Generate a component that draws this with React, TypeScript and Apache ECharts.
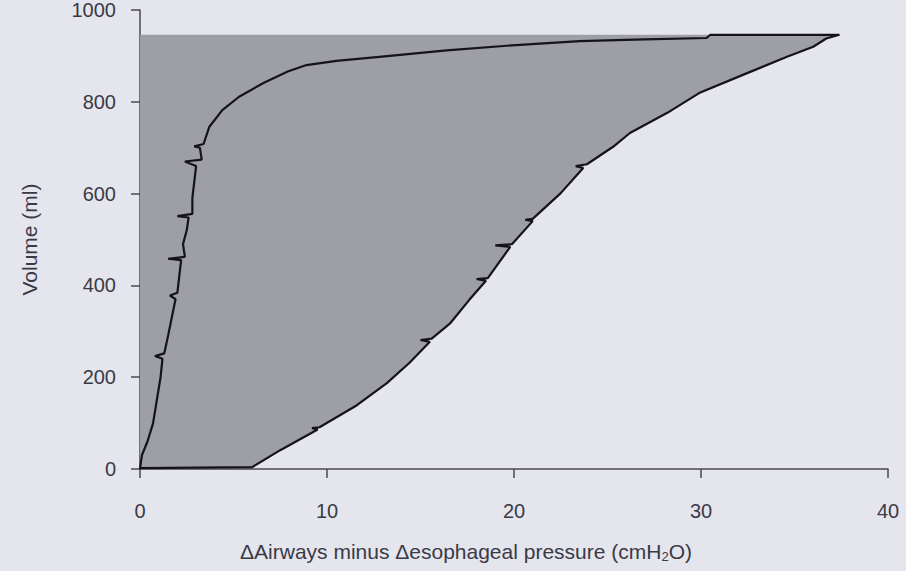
import React, { useEffect, useRef } from "react";
import * as echarts from "echarts";

// Pressure–volume loop: inflation limb (left) and deflation limb (right)
const xTicks = [0, 10, 20, 30, 40];
const yTicks = [0, 200, 400, 600, 800, 1000];

const inflationLimb: [number, number][] = [
  [0.0, 0], [0.1, 30], [0.4, 60], [0.7, 100], [0.9, 150], [1.1, 200], [1.2, 240],
  [0.8, 246], [1.3, 252], [1.5, 290], [1.7, 330], [1.9, 370], [1.6, 378], [2.0, 384],
  [2.1, 420], [2.2, 455], [1.5, 458], [2.4, 462], [2.3, 490], [2.5, 520], [2.6, 548],
  [2.0, 551], [2.8, 556], [2.8, 590], [2.9, 625], [3.0, 660], [2.4, 670], [3.3, 674],
  [3.2, 700], [2.9, 703], [3.4, 708], [3.7, 745], [4.4, 782], [5.3, 811], [6.6, 841],
  [7.9, 866], [8.9, 880], [10.5, 889], [12.8, 898], [16.4, 912], [19.9, 923],
  [23.5, 932], [27.0, 936], [30.3, 939], [30.5, 946], [37.4, 946],
];

const deflationLimb: [number, number][] = [
  [37.4, 946], [36.7, 938], [36.0, 920], [34.6, 898], [32.5, 863], [29.9, 819],
  [28.2, 776], [26.2, 732], [25.3, 702], [23.9, 664], [23.3, 660], [23.7, 656],
  [22.5, 601], [21.0, 545], [20.6, 543], [21.0, 540], [19.9, 490], [19.0, 487],
  [19.8, 484], [18.6, 416], [18.0, 414], [18.5, 410], [17.6, 368], [16.6, 318],
  [15.6, 284], [15.0, 281], [15.5, 277], [14.4, 231], [13.2, 187], [11.6, 139],
  [9.6, 91], [9.2, 89], [9.5, 86], [7.5, 41], [6.0, 4], [0.0, 2],
];

// Region enclosed by the y-axis, the top of the loop and the deflation limb
const loopRegion: [number, number][] = [[0, 0], [0, 946], ...deflationLimb];

const FONT = "Liberation Sans, Arial, Helvetica, sans-serif";
const TEXT = "#3a3a46";
const AXIS = "#4a4a4a";
const FS = 20;

export default function App() {
  const ref = useRef<HTMLDivElement>(null);

  useEffect(() => {
    if (!ref.current) return;
    const chart = echarts.init(ref.current, null, { renderer: "svg" });
    chart.setOption({
      animation: false,
      backgroundColor: "#e5e5ed",
      grid: { left: 140, right: 18, top: 10, bottom: 102 },
      xAxis: {
        type: "value",
        min: xTicks[0],
        max: xTicks[xTicks.length - 1],
        interval: 10,
        name: "ΔAirways minus Δesophageal pressure (cmH{sub|2}O)",
        nameLocation: "middle",
        nameGap: 71,
        nameTextStyle: {
          fontFamily: FONT,
          fontSize: 21,
          color: TEXT,
          padding: [0, 96, 0, 0],
          rich: {
            sub: { fontFamily: FONT, fontSize: 13, color: TEXT, padding: [10, 0, 0, 0] },
          },
        },
        axisLine: { show: true, onZero: false, lineStyle: { color: AXIS, width: 1.5 } },
        axisTick: { show: true, length: 9, lineStyle: { color: AXIS, width: 1.5 } },
        axisLabel: { margin: 32, fontFamily: FONT, fontSize: FS, color: TEXT },
        splitLine: { show: false },
      },
      yAxis: {
        type: "value",
        min: yTicks[0],
        max: yTicks[yTicks.length - 1],
        interval: 200,
        name: "Volume (ml)",
        nameLocation: "middle",
        nameGap: 100,
        nameTextStyle: { fontFamily: FONT, fontSize: 21, color: TEXT },
        axisLine: { show: true, onZero: false, lineStyle: { color: AXIS, width: 1.5 } },
        axisTick: { show: true, length: 9, lineStyle: { color: AXIS, width: 1.5 } },
        axisLabel: {
          margin: 24,
          fontFamily: FONT,
          fontSize: FS,
          color: TEXT,
          formatter: (v: number) => String(v),
        },
        splitLine: { show: false },
      },
      series: [
        {
          type: "custom",
          silent: true,
          z: 1,
          data: loopRegion,
          renderItem: (params: any, api: any) => {
            if (params.dataIndex !== 0) return null;
            const pts = loopRegion.map((p) => api.coord(p));
            return {
              type: "polygon",
              shape: { points: pts },
              style: { fill: "#9d9ea6", stroke: "none" },
            };
          },
        },
        {
          type: "line",
          data: inflationLimb,
          showSymbol: false,
          z: 3,
          lineStyle: { color: "#141418", width: 2.2 },
        },
        {
          type: "line",
          data: deflationLimb,
          showSymbol: false,
          z: 3,
          lineStyle: { color: "#141418", width: 2.2 },
        },
      ],
    });
    return () => chart.dispose();
  }, []);

  return (
    <div
      ref={ref}
      style={{ position: "fixed", left: 0, top: 0, width: 906, height: 571, background: "#e5e5ed" }}
    />
  );
}
